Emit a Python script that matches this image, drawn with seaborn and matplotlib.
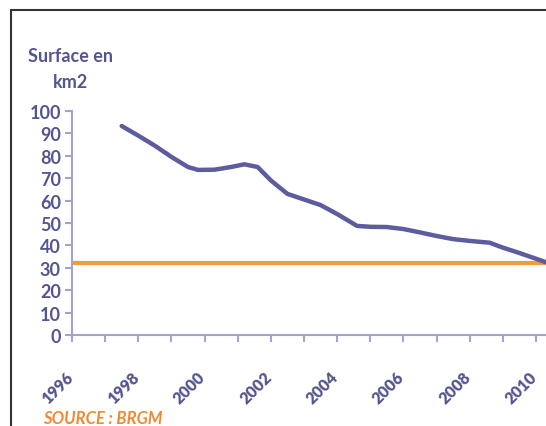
import numpy as np
import pandas as pd
import matplotlib
matplotlib.use("Agg")
import matplotlib.pyplot as plt
import matplotlib.transforms as mtransforms
import seaborn as sns
from matplotlib.patches import Rectangle
from matplotlib.ticker import MultipleLocator

# valeurs
annees = [1997.5, 1998.0, 1998.5, 1999.0, 1999.5, 1999.8, 2000.3, 2000.8, 2001.2,
          2001.6, 2002.0, 2002.5, 2003.0, 2003.5, 2004.0, 2004.6, 2005.0, 2005.5,
          2006.0, 2006.5, 2007.0, 2007.5, 2008.0, 2008.6, 2009.0, 2009.5, 2010.3]
surface = [93.3, 89.0, 84.5, 79.5, 75.0, 73.7, 73.8, 75.0, 76.2,
           75.0, 69.0, 63.0, 60.5, 58.0, 54.0, 48.7, 48.3, 48.2,
           47.3, 45.8, 44.2, 42.8, 42.0, 41.2, 39.0, 36.6, 32.5]
seuil = 32
annees_labels = list(range(1996, 2011, 2))
y_ticks = list(range(0, 101, 10))

df = pd.DataFrame({"annee": annees, "surface": surface})

sns.set_style("white")
plt.rcParams["font.family"] = ["Lato", "DejaVu Sans"]

bleu = "#5c5c9e"
bleu_txt = "#55558f"
bleu_axe = "#a3a3cf"
orange = "#f59a3a"

fig = plt.figure(figsize=(5.46, 4.27), dpi=100)
ax = fig.add_axes([72 / 546, (427 - 336) / 427, (546 - 72) / 546, (336 - 112) / 427])

sns.lineplot(data=df, x="annee", y="surface", ax=ax, color=bleu, linewidth=3.2,
             solid_joinstyle="round", solid_capstyle="round")
ax.axhline(seuil, color=orange, linewidth=3, zorder=1)

ax.set_xlim(1996, 2010.3)
ax.set_ylim(0, 100)
ax.set_yticks(y_ticks)
ax.set_xticks(annees_labels)
ax.xaxis.set_minor_locator(MultipleLocator(1))
ax.set_xlabel("")
ax.set_ylabel("")

for s in ["top", "right"]:
    ax.spines[s].set_visible(False)
for s in ["left", "bottom"]:
    ax.spines[s].set_color(bleu_axe)
    ax.spines[s].set_linewidth(1.5)

ax.tick_params(axis="y", which="major", direction="out", length=5, width=1.5,
               color=bleu_axe, labelcolor=bleu_txt, labelsize=13, pad=3, left=True)
ax.tick_params(axis="x", which="both", direction="out", length=5, width=1.5,
               color=bleu_axe, labelcolor=bleu_txt, labelsize=11.5, pad=19, bottom=True)
decal = mtransforms.ScaledTranslation(4 / 100, 0, fig.dpi_scale_trans)
for lab in ax.get_yticklabels():
    lab.set_fontweight("bold")
for lab in ax.get_xticklabels():
    lab.set_fontweight("heavy")
    lab.set_rotation(45)
    lab.set_ha("right")
    lab.set_va("top")
    lab.set_transform(lab.get_transform() + decal)

fig.text(70 / 546, 1 - 57 / 427, "Surface en", ha="center", va="center",
         color=bleu_txt, fontsize=13, fontweight="bold")
fig.text(71 / 546, 1 - 83 / 427, "km2", ha="center", va="center",
         color=bleu_txt, fontsize=13, fontweight="bold")
fig.text(43 / 546, 1 - 419 / 427, "SOURCE : BRGM", ha="left", va="center",
         color="#f08a30", fontsize=12, fontstyle="italic", fontweight="bold")

fig.patches.append(Rectangle((11 / 546, -0.1), 1.2, 1 - 11 / 427 + 0.1,
                             transform=fig.transFigure, fill=False,
                             edgecolor="#333333", linewidth=1.5))

fig.savefig("out.png", dpi=100)
